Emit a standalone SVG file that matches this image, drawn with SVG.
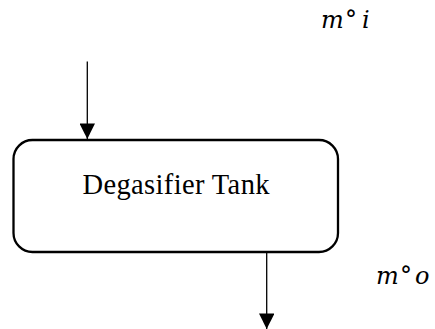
<svg xmlns="http://www.w3.org/2000/svg" width="435" height="329" viewBox="0 0 435 329">
  <style>
    .box { fill: #ffffff; stroke: #000000; stroke-width: 2.3; }
    .conn { stroke: #000000; stroke-width: 1.3; fill: none; }
    .label { font-family: "Liberation Serif", "Times New Roman", serif; font-size: 28.5px; fill: #000000; }
    .math { font-family: "DejaVu Serif", "Liberation Serif", serif; font-style: italic; font-size: 24px; fill: #000000; }
  </style>
  <defs>
    <marker id="arrow" viewBox="0 0 16 16" refX="16" refY="8" markerWidth="16.5" markerHeight="15.5" markerUnits="userSpaceOnUse" orient="auto">
      <path d="M0,0 L16,8 L0,16 Z" fill="#000000"/>
    </marker>
  </defs>
  <rect width="435" height="329" fill="#ffffff"/>
  <g id="connectors">
    <line class="conn" x1="87.3" y1="61.5" x2="87.3" y2="139" marker-end="url(#arrow)"/>
    <line class="conn" x1="266.7" y1="252" x2="266.7" y2="329" marker-end="url(#arrow)"/>
  </g>
  <g id="tank">
    <rect class="box" x="13.5" y="140" width="324.5" height="112" rx="19" ry="19"/>
    <text class="label" x="176" y="194" text-anchor="middle" textLength="187" lengthAdjust="spacing">Degasifier Tank</text>
  </g>
  <g id="label-in">
    <text class="math" x="321 345 355 362" y="27.7">m° i</text>
  </g>
  <g id="label-out">
    <text class="math" x="376 400 410 415" y="284.3">m° o</text>
  </g>
</svg>
